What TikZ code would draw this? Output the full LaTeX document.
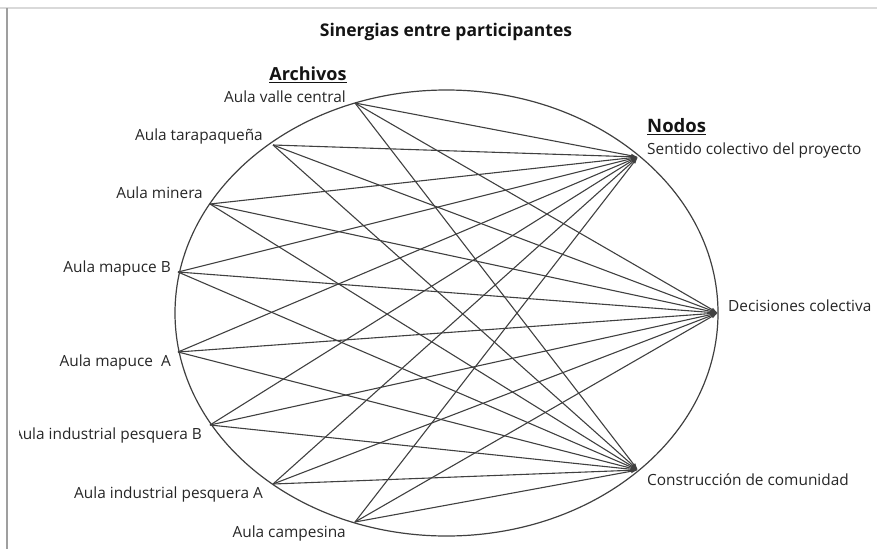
\documentclass[tikz,border=0pt]{standalone}
\usepackage{fontspec}
\setmainfont{Open Sans}
\usetikzlibrary{positioning, arrows.meta}

\begin{document}
\begin{tikzpicture}[x=1pt, y=-1pt,
  lbl/.style={text=black!85, font=\fontsize{15.4}{17}\selectfont, inner sep=0pt},
  head/.style={text=black!92, font=\fontsize{17.5}{19}\selectfont\bfseries, inner sep=0pt},
  link/.style={black!75, line width=1.1pt, -{Latex[length=7pt,width=4pt]}}]

\useasboundingbox (0,0) rectangle (877,549);

% Frame (screenshot edges)
\draw[gray!30, line width=2pt] (0,8)--(877,8);
\draw[gray!75, line width=1.5pt] (7,8)--(7,549);

% Title
\node[head] (title) at (446,32) {Sinergias entre participantes};

% Ellipse
\draw[black!75, line width=1.2pt] (446.5,313) ellipse (271.5 and 223);

% Points on the ellipse: archives (left) and nodes (right)
\coordinate (a1) at (355,103);
\coordinate (a2) at (273,145);
\coordinate (a3) at (210,204);
\coordinate (a4) at (178,272);
\coordinate (a5) at (178,352);
\coordinate (a6) at (210,425);
\coordinate (a7) at (273,484);
\coordinate (a8) at (355,522);
\coordinate (n1) at (638,157);
\coordinate (n2) at (718,313);
\coordinate (n3) at (638,470);

% Headings
\node[head, font=\fontsize{18}{20}\selectfont\bfseries] (archivos) at (308,75) {\underline{Archivos}};
\node[head, font=\fontsize{18.5}{20}\selectfont\bfseries, anchor=west] (nodos) at (647,127) {\underline{Nodos}};

% Archive labels
\node[lbl, anchor=east] (l1) at (346,97) {Aula valle central};
\node[lbl, anchor=east] (l2) at (263,136) {Aula tarapaqueña};
\node[lbl, anchor=east] (l3) at (203,193) {Aula minera};
\node[lbl, anchor=east] (l4) at (171,268) {Aula mapuce B};
\node[lbl, anchor=east] (l5) at (171,362) {Aula mapuce\ \ A};
\begin{scope}
\clip (19,0) rectangle (877,549);
\node[lbl, anchor=east] (l6) at (202,435) {Aula industrial pesquera B};
\end{scope}
\node[lbl, anchor=east] (l7) at (263,494) {Aula industrial pesquera A};
\node[lbl, anchor=east] (l8) at (346,533) {Aula campesina};

% Node labels
\node[lbl, anchor=west] (r1) at (647,150) {Sentido colectivo del proyecto};
\node[lbl, anchor=west] (r2) at (728,306) {Decisiones colectiva};
\node[lbl, anchor=west] (r3) at (647,480) {Construcción de comunidad};

% Links: every archive to every node
\foreach \i in {1,...,8}
  \foreach \j in {1,2,3}
    \draw[link] (a\i) -- (n\j);

\end{tikzpicture}
\end{document}
